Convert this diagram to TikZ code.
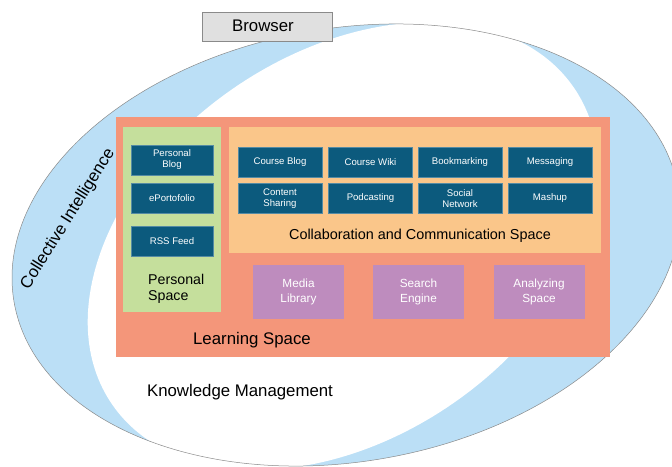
\documentclass[tikz,border=0pt]{standalone}
\usepackage{fontspec}
\setmainfont{Liberation Sans}
\definecolor{ringblue}{HTML}{BBDFF6}
\definecolor{ringline}{HTML}{8A8A8A}
\definecolor{learnsalmon}{HTML}{F4967A}
\definecolor{personalgreen}{HTML}{C5DF9C}
\definecolor{collabpeach}{HTML}{FAC68A}
\definecolor{tooldark}{HTML}{0C5A7D}
\definecolor{servpurple}{HTML}{BE8CBE}
\definecolor{browsergray}{HTML}{E0E0E0}

\begin{document}
\begin{tikzpicture}[x=1pt, y=-1pt,
      area/.style={rectangle, inner sep=0pt},
      toolbox/.style={rectangle, fill=tooldark, draw=tooldark!70!white, line width=0.3pt, text=white,
                      minimum width=84pt, minimum height=30pt, inner sep=0pt, align=center,
                      font=\fontsize{9.6}{11}\selectfont},
      servicebox/.style={rectangle, fill=servpurple, text=white, minimum width=91pt, minimum height=54pt,
                         inner sep=0pt, align=center, font=\fontsize{11.8}{14.5}\selectfont},
      title/.style={inner sep=0pt, font=\fontsize{16.8}{18}\selectfont}
    ]
    \useasboundingbox (0,0) rectangle (672,466);

    % the two rings
    \coordinate (outer) at (346,245);
    \coordinate (inner) at (343,246);
    \fill[ringblue, rotate around={9.7:(outer)}] (outer) ellipse [x radius=336.8pt, y radius=216.7pt];
    \fill[white, rotate around={34.4:(inner)}] (inner) ellipse [x radius=280pt, y radius=192pt];
    \draw[ringline, line width=0.5pt, rotate around={9.7:(outer)}] (outer) ellipse [x radius=336.8pt, y radius=216.7pt];

    \node[rectangle, draw=ringline, fill=browsergray, minimum width=130pt, minimum height=29pt, inner sep=0pt] (browser) at (267,26.5) {};
    \node[title] (browsertext) at (263,25.5) {Browser};

    \node[title, rotate=58] (collective) at (68,219) {Collective Intelligence};
    \node[title] (knowledge) at (240,392) {Knowledge Management};

    % learning space
    \node[area, fill=learnsalmon, minimum width=494pt, minimum height=240pt] (learning) at (363,237) {};
    \node[title] (learningtext) at (252,340) {Learning Space};

    \begin{scope}
        \node[area, fill=personalgreen, minimum width=98pt, minimum height=185pt] (personal) at (172,219.5) {};
        \node[toolbox, minimum width=82pt] (pblog) at (172,160) {Personal\\Blog};
        \node[toolbox, minimum width=82pt] (eport) at (172,198.5) {ePortofolio};
        \node[toolbox, minimum width=82pt] (rss) at (172,241) {RSS Feed};
        \node[inner sep=0pt, anchor=west, align=left, font=\fontsize{14.2}{15.5}\selectfont] (personaltext) at (148,289) {Personal\\Space};
    \end{scope}

    \begin{scope}
        \node[area, fill=collabpeach, minimum width=372pt, minimum height=126pt] (collab) at (415,190) {};
        \node[toolbox] (cblog) at (280,162) {Course Blog};
        \node[toolbox] (cwiki) at (370.5,162) {Course Wiki};
        \node[toolbox] (bookmark) at (460,162) {Bookmarking};
        \node[toolbox] (messaging) at (550,162) {Messaging};
        \node[toolbox] (content) at (280,198.5) {Content\\Sharing};
        \node[toolbox] (podcast) at (370.5,198.5) {Podcasting};
        \node[toolbox] (social) at (460,198.5) {Social\\Network};
        \node[toolbox] (mashup) at (550,198.5) {Mashup};
        \node[inner sep=0pt, font=\fontsize{14.4}{16}\selectfont] (collabtext) at (420,236) {Collaboration and Communication Space};
    \end{scope}

    \node[servicebox] (media) at (298.5,292) {Media\\Library};
    \node[servicebox] (search) at (418.5,292) {Search\\Engine};
    \node[servicebox] (analyzing) at (539,292) {Analyzing\\Space};

\end{tikzpicture}
\end{document}
